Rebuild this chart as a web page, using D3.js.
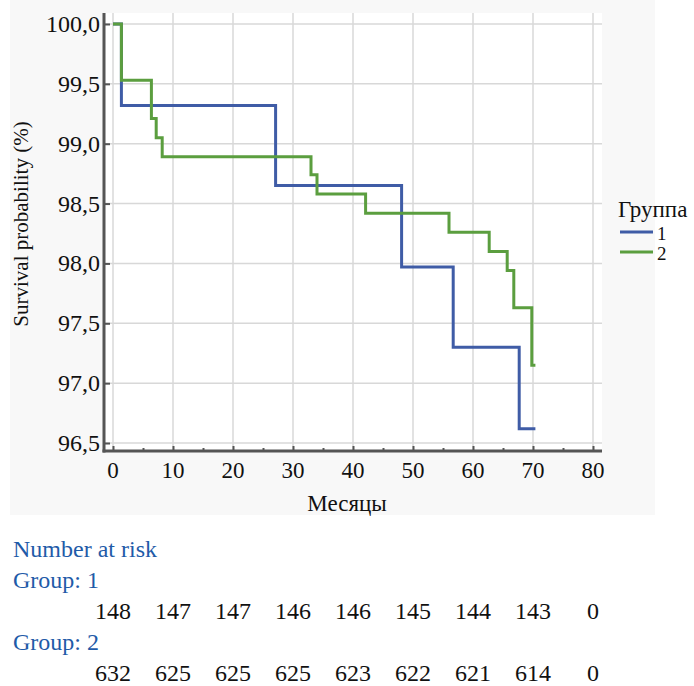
<!DOCTYPE html>
<html>
<head>
<meta charset="utf-8">
<script src="https://cdn.jsdelivr.net/npm/d3@7"></script>
<style>
  html, body { margin: 0; padding: 0; background: #fff; }
  svg { display: block; }
</style>
</head>
<body>
<svg id="chart" width="694" height="686"></svg>
<script>
// ---- data ----
const group1Times = [0, 1.4, 27.1, 48.1, 56.7, 67.7, 70.4];
const group1Surv  = [100, 99.32, 98.65, 97.97, 97.30, 96.62, 96.62];
const group2Times = [0, 1.4, 6.4, 7.2, 8.2, 33.0, 34.0, 42.1, 56.0, 62.7, 65.7, 66.8, 69.8, 70.4];
const group2Surv  = [100, 99.53, 99.21, 99.05, 98.89, 98.74, 98.58, 98.42, 98.26, 98.10, 97.94, 97.63, 97.15, 97.15];
const xTicks = [0, 10, 20, 30, 40, 50, 60, 70, 80];
const yTicks = [96.5, 97.0, 97.5, 98.0, 98.5, 99.0, 99.5, 100.0];
const groupNames = ["1", "2"];
const riskTimes = [0, 10, 20, 30, 40, 50, 60, 70, 80];
const riskGroup1 = [148, 147, 147, 146, 146, 145, 144, 143, 0];
const riskGroup2 = [632, 625, 625, 625, 623, 622, 621, 614, 0];

(function () {
// ---- layout ----
const svg = d3.select("#chart")
  .attr("font-family", "'Liberation Serif', Tinos, 'Times New Roman', 'DejaVu Serif', serif");
const pL = 104, pR = 602, pT = 13, pB = 451;
const x = d3.scaleLinear().domain([-1.5, 81.5]).range([pL, pR]);
const y = d3.scaleLinear().domain([96.4333, 100.0917]).range([pB, pT]);
const colors = ["#3f5ca6", "#5b9e3f"];
const fmt = v => d3.format(".1f")(v).replace(".", ",");

// background panel
svg.append("rect").attr("x", 10).attr("y", 0).attr("width", 645).attr("height", 515).attr("fill", "#f8f8f8");
svg.append("rect").attr("x", pL).attr("y", pT).attr("width", pR - pL).attr("height", pB - pT).attr("fill", "#ffffff");

// grid
svg.append("g").selectAll("line").data(xTicks).join("line")
  .attr("x1", d => x(d)).attr("x2", d => x(d)).attr("y1", pT).attr("y2", pB)
  .attr("stroke", "#d8d8d8").attr("stroke-width", 1.5);
svg.append("g").selectAll("line").data(yTicks).join("line")
  .attr("x1", pL).attr("x2", pR).attr("y1", d => y(d)).attr("y2", d => y(d))
  .attr("stroke", "#d8d8d8").attr("stroke-width", 1.5);

// curves
const line = d3.line().x(d => x(d[0])).y(d => y(d[1])).curve(d3.curveStepAfter);
const series = [
  d3.zip(group1Times, group1Surv),
  d3.zip(group2Times, group2Surv)
];
series.forEach((s, i) => {
  svg.append("path").datum(s).attr("d", line)
    .attr("fill", "none").attr("stroke", colors[i]).attr("stroke-width", 3);
});

// axes
const xAxis = svg.append("g").attr("transform", `translate(0,${pB})`)
  .call(d3.axisTop(x).tickValues(xTicks).tickSize(5).tickFormat(""));
const xMinor = svg.append("g").attr("transform", `translate(0,${pB})`)
  .call(d3.axisTop(x).tickValues(xTicks.slice(0, -1).map(d => d + 5)).tickSize(3).tickFormat(""));
const yAxis = svg.append("g").attr("transform", `translate(${pL},0)`)
  .call(d3.axisRight(y).tickValues(yTicks).tickSize(6).tickFormat(""));
[xAxis, xMinor, yAxis].forEach(g => {
  g.select(".domain").remove();
  g.attr("font-family", null);
  g.selectAll(".tick line").attr("stroke", "#555").attr("stroke-width", 2);
});
svg.append("line").attr("x1", pL).attr("x2", pL).attr("y1", pT).attr("y2", pB + 1.5)
  .attr("stroke", "#555").attr("stroke-width", 3);
svg.append("line").attr("x1", pL - 1.5).attr("x2", pR).attr("y1", pB).attr("y2", pB)
  .attr("stroke", "#555").attr("stroke-width", 3);

// tick labels
svg.append("g").selectAll("text").data(xTicks).join("text")
  .attr("x", d => x(d)).attr("y", 478).attr("text-anchor", "middle")
  .attr("font-size", 23).attr("fill", "#111").text(d => d);
svg.append("g").selectAll("text").data(yTicks).join("text")
  .attr("x", 100).attr("y", d => y(d) + 8).attr("text-anchor", "end")
  .attr("font-size", 24).attr("fill", "#111").text(d => fmt(d));

// axis titles
svg.append("text").attr("x", 347).attr("y", 511).attr("text-anchor", "middle")
  .attr("font-size", 23).attr("fill", "#111").text("Месяцы");
svg.append("text").attr("transform", "translate(28,224) rotate(-90)").attr("text-anchor", "middle")
  .attr("font-size", 21).attr("fill", "#111").text("Survival probability (%)");

// legend
svg.append("text").attr("x", 618).attr("y", 217).attr("font-size", 23).attr("fill", "#111").text("Группа");
const leg = svg.append("g").selectAll("g").data(groupNames).join("g")
  .attr("transform", (d, i) => `translate(620,${232 + i * 20})`);
leg.append("line").attr("x1", 0).attr("x2", 33).attr("y1", 0).attr("y2", 0)
  .attr("stroke", (d, i) => colors[i]).attr("stroke-width", 3);
leg.append("text").attr("x", 37).attr("y", 8).attr("font-size", 19).attr("fill", "#111").text(d => d);

// number at risk table
const blue = "#1f5ba8";
svg.append("text").attr("x", 13).attr("y", 557).attr("font-size", 24).attr("fill", blue).text("Number at risk");
svg.append("text").attr("x", 13).attr("y", 588).attr("font-size", 24).attr("fill", blue).text("Group: " + groupNames[0]);
svg.append("g").selectAll("text").data(riskGroup1).join("text")
  .attr("x", (d, i) => x(riskTimes[i])).attr("y", 619).attr("text-anchor", "middle")
  .attr("font-size", 24).attr("fill", "#111").text(d => d);
svg.append("text").attr("x", 13).attr("y", 650).attr("font-size", 24).attr("fill", blue).text("Group: " + groupNames[1]);
svg.append("g").selectAll("text").data(riskGroup2).join("text")
  .attr("x", (d, i) => x(riskTimes[i])).attr("y", 681).attr("text-anchor", "middle")
  .attr("font-size", 24).attr("fill", "#111").text(d => d);
})();
</script>
</body>
</html>
